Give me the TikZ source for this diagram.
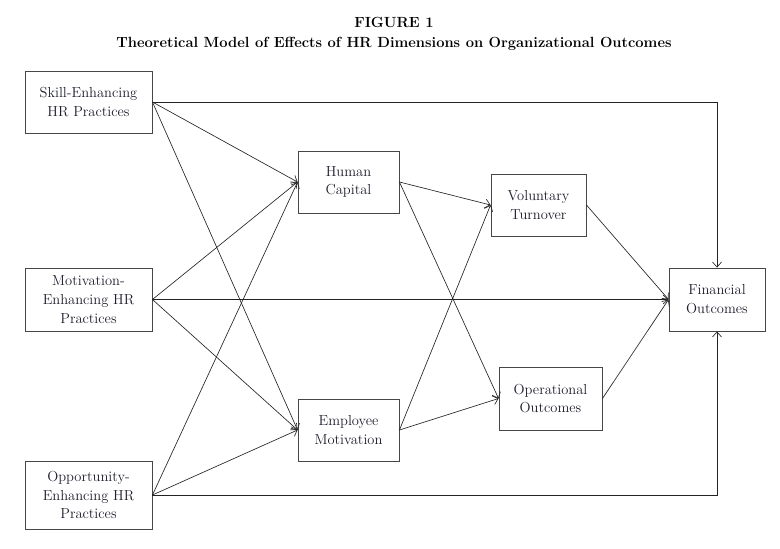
\documentclass[tikz,border=0pt]{standalone}
\usepackage{tikz}
\usetikzlibrary{arrows.meta,positioning}
\definecolor{boxgray}{RGB}{70,70,70}
\definecolor{linegray}{RGB}{35,35,35}
\definecolor{textdark}{RGB}{30,30,45}
\tikzset{
  % Bloklar
  hrbox/.style    = {draw=boxgray, line width=0.9pt, align=center, inner sep=2pt,
                     font=\fontsize{14.5}{18.8}\selectfont, text=textdark},
  % Strelkalar
  link/.style     = {-{Straight Barb[length=5pt,width=9pt]}, draw=linegray, line width=0.65pt},
  % Sarlavha
  titlelab/.style = {font=\fontsize{14.7}{17}\selectfont\bfseries, inner sep=1pt},
}
\begin{document}
\begin{tikzpicture}[x=1pt,y=-1pt]
  \useasboundingbox (0,0) rectangle (780,549);
  % Sarlavha
  \node[titlelab] (figno) at (394,22) {FIGURE 1};
  \node[titlelab] (figtitle) at (394,44) {Theoretical Model of Effects of HR Dimensions on Organizational Outcomes};
  % HR amaliyotlari
  \node[hrbox, minimum width=127pt, minimum height=62pt] (skill) at (88.5,102) {Skill-Enhancing\\HR Practices};
  \node[hrbox, minimum width=127pt, minimum height=63pt] (motiv) at (88.5,299.5) {Motivation-\\Enhancing HR\\Practices};
  \node[hrbox, minimum width=127pt, minimum height=68pt] (oppor) at (88.5,495) {Opportunity-\\Enhancing HR\\Practices};
  % Oraliq bloklar
  \node[hrbox, minimum width=101pt, minimum height=62pt] (human) at (348.5,182) {Human\\Capital};
  \node[hrbox, minimum width=101pt, minimum height=62pt] (empmot) at (348.5,430) {Employee\\Motivation};
  \node[hrbox, minimum width=95pt, minimum height=62pt] (volt) at (538.5,205) {Voluntary\\Turnover};
  \node[hrbox, minimum width=103pt, minimum height=63pt] (oper) at (550.5,398.5) {Operational\\Outcomes};
  \node[hrbox, minimum width=96pt, minimum height=63pt] (fin) at (717,299.5) {Financial\\Outcomes};
  % HR -> inson kapitali / motivatsiya
  \foreach \src in {skill,motiv,oppor} {
    \draw[link] (\src.east) -- (human.west);
    \draw[link] (\src.east) -- (empmot.west);
  }
  % HR -> moliyaviy natijalar
  \draw[link] (skill.east) -| (fin.north);
  \draw[link] (motiv.east) -- (fin.west);
  \draw[link] (oppor.east) -| (fin.south);
  % Oraliq -> natijalar
  \foreach \src in {human,empmot} {
    \draw[link] (\src.east) -- (volt.west);
    \draw[link] (\src.east) -- (oper.west);
  }
  \draw[link] (volt.east) -- (fin.west);
  \draw[link] (oper.east) -- (fin.west);
\end{tikzpicture}
\end{document}
